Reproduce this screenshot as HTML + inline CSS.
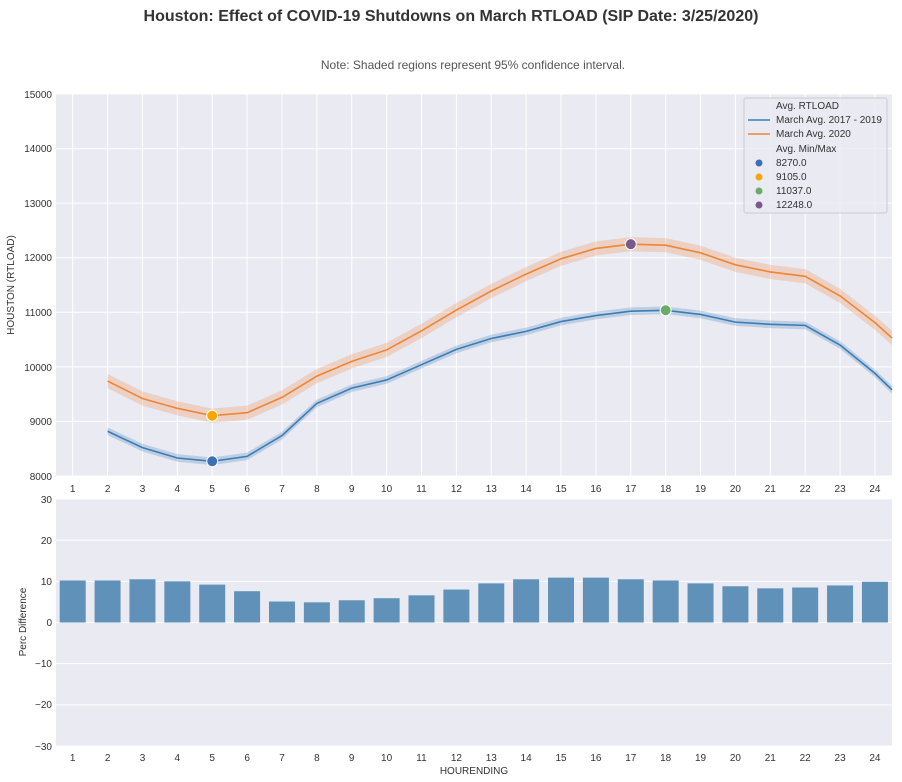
<!DOCTYPE html>
<html><head><meta charset="utf-8"><style>
body{margin:0;background:#fff;}
svg{display:block;font-family:"Liberation Sans",sans-serif;}
.t{font-size:10px;fill:#333;}
</style></head><body>
<svg id="s" width="902" height="782" xmlns="http://www.w3.org/2000/svg">
<text x="451" y="21" text-anchor="middle" font-size="16" font-weight="bold" fill="#333">Houston: Effect of COVID-19 Shutdowns on March RTLOAD (SIP Date: 3/25/2020)</text>
<text x="473" y="69" text-anchor="middle" font-size="12" fill="#555">Note: Shaded regions represent 95% confidence interval.</text>
<rect x="56" y="94" width="836" height="382" fill="#eaeaf2"/>
<rect x="56" y="499" width="836" height="247" fill="#eaeaf2"/>
<g id="grid" stroke="#fff" stroke-width="1"></g>
<g id="data"></g>
<g class="t" text-anchor="end">
<text x="52" y="98">15000</text><text x="52" y="152">14000</text><text x="52" y="207">13000</text><text x="52" y="261">12000</text><text x="52" y="316">11000</text><text x="52" y="371">10000</text><text x="52" y="425">9000</text><text x="52" y="480">8000</text>
<text x="52" y="503">30</text><text x="52" y="544">20</text><text x="52" y="585">10</text><text x="52" y="626">0</text><text x="52" y="667">−10</text><text x="52" y="708">−20</text><text x="52" y="750">−30</text>
</g>
<g class="t" text-anchor="middle" id="xt1">
<text x="72.7" y="492">1</text><text x="107.6" y="492">2</text><text x="142.5" y="492">3</text><text x="177.3" y="492">4</text><text x="212.2" y="492">5</text><text x="247.1" y="492">6</text><text x="282" y="492">7</text><text x="316.9" y="492">8</text><text x="351.7" y="492">9</text><text x="386.6" y="492">10</text><text x="421.5" y="492">11</text><text x="456.4" y="492">12</text><text x="491.3" y="492">13</text><text x="526.1" y="492">14</text><text x="561" y="492">15</text><text x="595.9" y="492">16</text><text x="630.8" y="492">17</text><text x="665.7" y="492">18</text><text x="700.5" y="492">19</text><text x="735.4" y="492">20</text><text x="770.3" y="492">21</text><text x="805.2" y="492">22</text><text x="840.1" y="492">23</text><text x="874.9" y="492">24</text>
</g>
<g class="t" text-anchor="middle">
<text x="72.7" y="761">1</text><text x="107.6" y="761">2</text><text x="142.5" y="761">3</text><text x="177.3" y="761">4</text><text x="212.2" y="761">5</text><text x="247.1" y="761">6</text><text x="282" y="761">7</text><text x="316.9" y="761">8</text><text x="351.7" y="761">9</text><text x="386.6" y="761">10</text><text x="421.5" y="761">11</text><text x="456.4" y="761">12</text><text x="491.3" y="761">13</text><text x="526.1" y="761">14</text><text x="561" y="761">15</text><text x="595.9" y="761">16</text><text x="630.8" y="761">17</text><text x="665.7" y="761">18</text><text x="700.5" y="761">19</text><text x="735.4" y="761">20</text><text x="770.3" y="761">21</text><text x="805.2" y="761">22</text><text x="840.1" y="761">23</text><text x="874.9" y="761">24</text>
<text x="474" y="774">HOURENDING</text>
</g>
<text class="t" transform="translate(14,285) rotate(-90)" text-anchor="middle">HOUSTON (RTLOAD)</text>
<text class="t" transform="translate(26,622) rotate(-90)" text-anchor="middle">Perc Difference</text>
<g>
<rect x="744" y="98" width="143" height="115" rx="2" fill="#eaeaf2" fill-opacity="0.85" stroke="#ccc"/>
<g class="t">
<text x="776" y="109">Avg. RTLOAD</text>
<text x="776" y="123">March Avg. 2017 - 2019</text>
<text x="776" y="137">March Avg. 2020</text>
<text x="776" y="152">Avg. Min/Max</text>
<text x="776" y="166">8270.0</text>
<text x="776" y="180">9105.0</text>
<text x="776" y="194">11037.0</text>
<text x="776" y="208">12248.0</text>
</g>
<line x1="748" y1="120" x2="770" y2="120" stroke="#3a7db5" stroke-width="1.6"/>
<line x1="748" y1="134" x2="770" y2="134" stroke="#ee8537" stroke-width="1.6"/>
<circle cx="759" cy="163" r="3.5" fill="#3b6fb6"/>
<circle cx="759" cy="177" r="3.5" fill="#f5a800"/>
<circle cx="759" cy="191" r="3.5" fill="#6aaa6a"/>
<circle cx="759" cy="205" r="3.5" fill="#7a5a8a"/>
</g>
</svg>
<script>
var X=function(h){return 72.7+34.88*(h-1);},Y=function(v){return 476-(v-8000)*0.05457;},B=function(v){return 622.5-v*4.117;};
var g='',d='';
for(var v=8000;v<=15000;v+=1000)g+='<line x1="56" x2="892" y1="'+Y(v)+'" y2="'+Y(v)+'"/>';
for(var h=1;h<=24;h++)g+='<line y1="94" y2="476" x1="'+X(h)+'" x2="'+X(h)+'"/>';
for(var v=-30;v<=30;v+=10)g+='<line x1="56" x2="892" y1="'+B(v)+'" y2="'+B(v)+'"/>';
document.getElementById('grid').innerHTML=g;
var blue=[8820,8520,8330,8270,8360,8740,9330,9610,9760,10040,10320,10520,10650,10830,10940,11020,11037,10960,10820,10780,10760,10400,9880];
var ora=[9740,9420,9240,9105,9160,9440,9830,10100,10310,10660,11040,11390,11700,11980,12170,12248,12230,12090,11870,11740,11660,11300,10810];
function draw(arr,end,col,ci){
 var pts=[];for(var i=0;i<arr.length;i++)pts.push([X(i+2),arr[i]]);pts.push([892,end]);
 var up=pts.map(function(p){return p[0]+','+Y(p[1]+ci);}).join(' ');
 var dn=pts.slice().reverse().map(function(p){return p[0]+','+Y(p[1]-ci);}).join(' ');
 d+='<polygon points="'+up+' '+dn+'" fill="'+col+'" fill-opacity="0.25"/>';
 d+='<polyline points="'+pts.map(function(p){return p[0]+','+Y(p[1]);}).join(' ')+'" fill="none" stroke="'+col+'" stroke-width="1.6"/>';
}
var bars=[10.2,10.2,10.5,10,9.2,7.6,5.1,4.9,5.4,5.9,6.6,8.0,9.5,10.5,10.9,10.9,10.5,10.2,9.5,8.8,8.3,8.5,9.0,9.9];
for(var i=0;i<24;i++){var x=X(i+1);d+='<rect x="'+(x-13)+'" y="'+B(bars[i])+'" width="26" height="'+(bars[i]*4.117)+'" fill="#6092b9"/>';}
draw(blue,9580,'#3a7db5',70);
draw(ora,10530,'#ee8537',130);
[[5,8270,'#3b6fb6'],[5,9105,'#f5a800'],[18,11037,'#6aaa6a'],[17,12248,'#7a5a8a']].forEach(function(m){d+='<circle cx="'+X(m[0])+'" cy="'+Y(m[1])+'" r="5.5" fill="'+m[2]+'" stroke="#fff" stroke-width="1"/>';});
document.getElementById('data').innerHTML=d;
</script>
</body></html>
